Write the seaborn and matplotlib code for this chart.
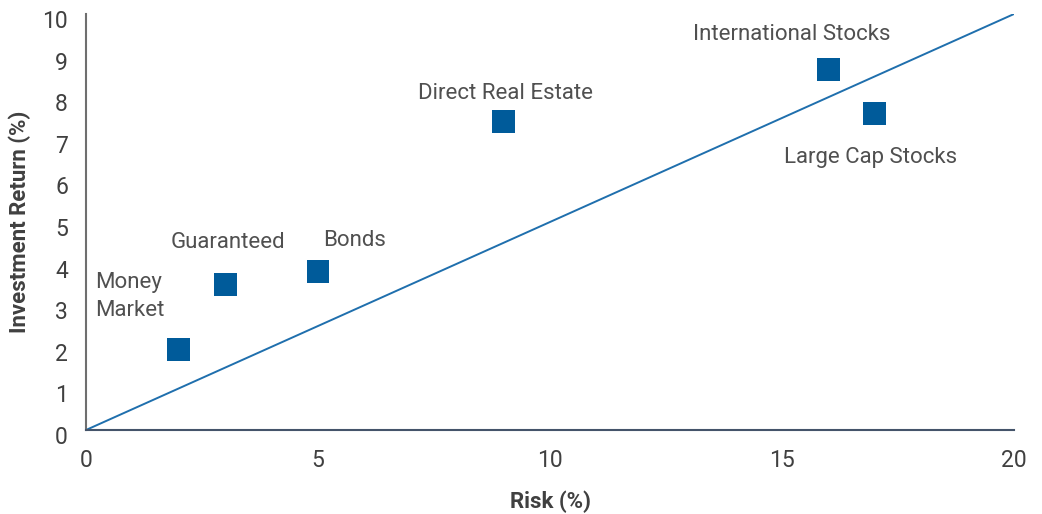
import matplotlib
matplotlib.use("Agg")
import matplotlib.pyplot as plt
import matplotlib.transforms as mtransforms
import seaborn as sns
import pandas as pd
from matplotlib import font_manager

names = ["Money\nMarket", "Guaranteed", "Bonds", "Direct Real Estate",
         "International Stocks", "Large Cap Stocks"]
risk = [2, 3, 5, 9, 16, 17]
ret = [1.93, 3.5, 3.81, 7.42, 8.67, 7.61]
line_x = [0, 20]
line_y = [0, 10]
x_ticks = [0, 5, 10, 15, 20]
y_ticks = list(range(0, 11))

sns.set_theme(style="white")
avail = {f.name for f in font_manager.fontManager.ttflist}
fam = [f for f in ["Liberation Sans Narrow", "Roboto", "DejaVu Sans"] if f in avail]
plt.rcParams['font.family'] = fam

df = pd.DataFrame({"risk": risk, "ret": ret, "name": names})
ldf = pd.DataFrame({"x": line_x, "y": line_y})

fig = plt.figure(figsize=(10.42, 5.14), dpi=100)
ax = fig.add_axes([86/1042, 1-430/514, (1014-86)/1042, (430-14)/514])

sns.lineplot(data=ldf, x="x", y="y", ax=ax, color="#1f6fad", linewidth=1.4)
sns.scatterplot(data=df, x="risk", y="ret", ax=ax, marker="s", s=16.5**2,
                color="#005b9a", edgecolor="none", zorder=3)

ax.set_xlim(0, 20)
ax.set_ylim(0, 10)
ax.set_xticks(x_ticks)
ax.set_yticks(y_ticks)
ax.tick_params(axis="both", length=0, labelsize=16.5, colors="#404040")
ax.tick_params(axis="x", pad=14)
ax.tick_params(axis="y", pad=13)
off = mtransforms.ScaledTranslation(0, -5/100, fig.dpi_scale_trans)
for lab in ax.get_yticklabels():
    lab.set_transform(lab.get_transform() + off)
for s in ["top", "right"]:
    ax.spines[s].set_visible(False)
ax.spines["left"].set_color("#6f6f6f")
ax.spines["left"].set_linewidth(1.5)
ax.spines["bottom"].set_color("#44546a")
ax.spines["bottom"].set_linewidth(1.5)

ax.set_xlabel("Risk (%)", fontsize=16, color="#404040", fontweight="semibold", labelpad=13)
ax.set_ylabel("Investment Return (%)", fontsize=16, color="#404040", fontweight="semibold", labelpad=8)

tc = "#505050"
fs = 16
ax.text(0.2, 3.2, names[0], ha="left", va="center", fontsize=fs, color=tc, linespacing=1.45)
ax.text(3.05, 4.5, names[1], ha="center", va="center", fontsize=fs, color=tc)
ax.text(5.1, 4.55, names[2], ha="left", va="center", fontsize=fs, color=tc)
ax.text(9.05, 8.1, names[3], ha="center", va="center", fontsize=fs, color=tc)
ax.text(15.2, 9.5, names[4], ha="center", va="center", fontsize=fs, color=tc)
ax.text(16.9, 6.55, names[5], ha="center", va="center", fontsize=fs, color=tc)

fig.savefig("out.png", dpi=100)
